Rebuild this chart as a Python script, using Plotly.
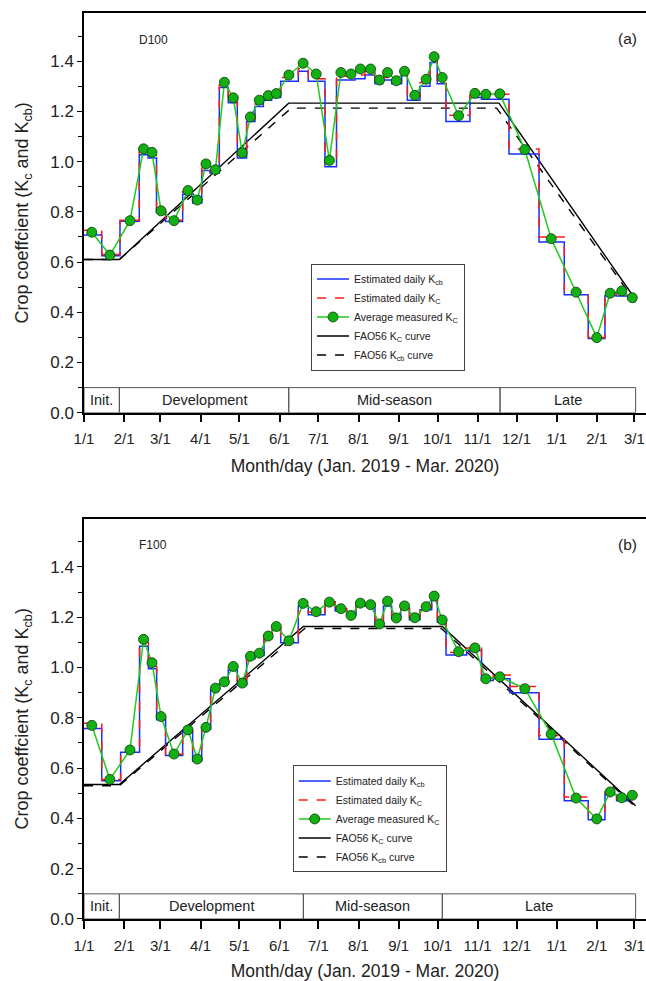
import numpy as np
import pandas as pd
import plotly.graph_objects as go

# ---------------- data (days since 2019-01-01) ----------------
meas_days = [6, 20, 35.5, 46, 52.5, 59.5, 69.5, 80.3, 87.5, 94.2, 101.5, 108.4, 115.3, 122.2,
             128.5, 135.4, 142.3, 148.5, 158.2, 169.2, 179.3, 189.5, 198.4, 206.2, 213.4, 221.3,
             228.2, 234.4, 241.2, 247.5, 255.5, 264.2, 270.4, 276.6, 289.3, 301.9, 310.3, 321.1,
             340.4, 360.8, 380, 396, 406.3, 415.3, 423.4]

meas_kc_a = [0.719, 0.628, 0.765, 1.051, 1.037, 0.804, 0.765, 0.885, 0.847, 0.991, 0.968, 1.316,
             1.254, 1.035, 1.178, 1.245, 1.263, 1.271, 1.345, 1.392, 1.349, 1.005, 1.355, 1.349,
             1.369, 1.369, 1.325, 1.355, 1.322, 1.360, 1.264, 1.328, 1.418, 1.335, 1.183, 1.272,
             1.268, 1.270, 1.048, 0.693, 0.480, 0.299, 0.476, 0.485, 0.458]

meas_kc_b = [0.770, 0.555, 0.672, 1.112, 1.019, 0.805, 0.656, 0.752, 0.636, 0.762, 0.918, 0.943,
             1.004, 0.938, 1.045, 1.057, 1.125, 1.163, 1.106, 1.255, 1.222, 1.260, 1.234, 1.207,
             1.256, 1.250, 1.173, 1.264, 1.197, 1.245, 1.198, 1.242, 1.284, 1.189, 1.063, 1.078,
             0.955, 0.963, 0.916, 0.735, 0.481, 0.398, 0.505, 0.482, 0.492]

step_edges_a = [0, 13.7, 27.8, 42.7, 49.5, 56, 63, 76.2, 83.9, 90.9, 97.3, 104.5, 111.4, 118.4,
                125.6, 132, 138.5, 144.9, 151.9, 165.5, 173.2, 186.1, 195, 209.3, 217, 224.7,
                230.6, 237.6, 245.3, 249.7, 259.5, 267.2, 272.8, 279.5, 298, 307, 328.2, 351.4,
                370.9, 389.4, 402.3, 411.3, 425.5]
kcb_steps_a = [0.708, 0.625, 0.763, 1.027, 1.015, 0.797, 0.762, 0.870, 0.835, 0.965, 0.955, 1.295,
               1.235, 1.015, 1.160, 1.220, 1.245, 1.255, 1.320, 1.360, 1.320, 0.980, 1.325, 1.330,
               1.345, 1.310, 1.325, 1.310, 1.345, 1.245, 1.300, 1.395, 1.310, 1.160, 1.255, 1.248,
               1.030, 0.680, 0.470, 0.296, 0.466, 0.465]
kc_steps_a = [0.727, 0.630, 0.767, 1.045, 1.025, 0.802, 0.767, 0.880, 0.845, 0.975, 0.965, 1.305,
              1.245, 1.025, 1.170, 1.230, 1.255, 1.265, 1.335, 1.370, 1.330, 0.995, 1.340, 1.345,
              1.360, 1.320, 1.335, 1.320, 1.355, 1.260, 1.315, 1.405, 1.325, 1.185, 1.265, 1.268,
              1.050, 0.700, 0.480, 0.300, 0.475, 0.470]

step_edges_b = [0, 13.7, 28.3, 42.9, 49.7, 56.1, 63, 76.2, 83.9, 90.9, 97.8, 104.5, 111.4, 118.4,
                125.6, 132, 139, 145.4, 151.9, 165.5, 173.2, 186.1, 194, 202.9, 210.1, 224.7,
                231.2, 237.6, 244.6, 251.3, 259.5, 268.5, 272.9, 279.6, 295.5, 307, 316, 329,
                351.4, 370.9, 389.4, 402.3, 411.3, 420, 425.5]
kcb_steps_b = [0.758, 0.550, 0.663, 1.085, 0.995, 0.792, 0.650, 0.745, 0.628, 0.755, 0.912, 0.935,
               0.990, 0.930, 1.035, 1.048, 1.115, 1.150, 1.098, 1.245, 1.210, 1.250, 1.225, 1.210,
               1.245, 1.170, 1.245, 1.195, 1.237, 1.190, 1.230, 1.270, 1.180, 1.050, 1.068, 0.948,
               0.955, 0.900, 0.715, 0.470, 0.395, 0.495, 0.470, 0.485]
kc_steps_b = [0.778, 0.555, 0.668, 1.100, 1.005, 0.800, 0.655, 0.752, 0.635, 0.762, 0.920, 0.945,
              1.000, 0.940, 1.045, 1.058, 1.125, 1.165, 1.105, 1.262, 1.220, 1.262, 1.235, 1.220,
              1.255, 1.180, 1.258, 1.205, 1.247, 1.200, 1.242, 1.282, 1.192, 1.060, 1.078, 0.958,
              0.970, 0.925, 0.730, 0.485, 0.400, 0.505, 0.478, 0.492]

fao_kc_days_a = [0, 27.3, 158.1, 320.5, 426]
fao_kc_a = [0.61, 0.61, 1.233, 1.233, 0.45]
fao_kcb_days_a = [0, 27.3, 160, 318.7, 426]
fao_kcb_a = [0.61, 0.61, 1.213, 1.213, 0.44]

fao_kc_days_b = [0, 27.3, 169.4, 276.7, 426]
fao_kc_b = [0.535, 0.535, 1.163, 1.163, 0.45]
fao_kcb_days_b = [0, 27.3, 170.5, 276.0, 426]
fao_kcb_b = [0.530, 0.530, 1.155, 1.155, 0.445]

stage_names = ["Init.", "Development", "Mid-season", "Late"]
stage_bounds_a = [0, 27.3, 158.1, 321.3, 426]
stage_bounds_b = [0, 27.3, 169.4, 276.7, 426]

panel_ids = ["D100", "F100"]
panel_tags = ["(a)", "(b)"]

x_title = "Month/day (Jan. 2019 - Mar. 2020)"
y_title = "Crop coeffcient (K<sub>c</sub> and K<sub>cb</sub>)"

BASE = pd.Timestamp("2019-01-01")


def to_dates(days):
    return BASE + pd.to_timedelta(np.asarray(days, dtype=float), unit="D")


FONT = "Liberation Sans, Arial, sans-serif"
TXT = "#222222"

fig = go.Figure()

panels = [
    dict(edges=step_edges_a, kcb=kcb_steps_a, kc=kc_steps_a, meas=meas_kc_a,
         fkd=fao_kc_days_a, fk=fao_kc_a, fbd=fao_kcb_days_a, fb=fao_kcb_a,
         stages=stage_bounds_a, xa="x", ya="y", legend="legend"),
    dict(edges=step_edges_b, kcb=kcb_steps_b, kc=kc_steps_b, meas=meas_kc_b,
         fkd=fao_kc_days_b, fk=fao_kc_b, fbd=fao_kcb_days_b, fb=fao_kcb_b,
         stages=stage_bounds_b, xa="x2", ya="y2", legend="legend2"),
]

for p in panels:
    common = dict(xaxis=p["xa"], yaxis=p["ya"], legend=p["legend"])
    fig.add_trace(go.Scatter(x=to_dates(p["fkd"]), y=p["fk"], mode="lines",
                             line=dict(color="black", width=1.4),
                             name="FAO56 K<sub>C</sub> curve", legendrank=4, **common))
    fig.add_trace(go.Scatter(x=to_dates(p["fbd"]), y=p["fb"], mode="lines",
                             line=dict(color="black", width=1.4, dash="dash"),
                             name="FAO56 K<sub>cb</sub> curve", legendrank=5, **common))
    kcb_y = list(p["kcb"]) + [p["kcb"][-1]]
    kc_y = list(p["kc"]) + [p["kc"][-1]]
    fig.add_trace(go.Scatter(x=to_dates(p["edges"]), y=kcb_y, mode="lines", line_shape="hv",
                             line=dict(color="#1530ff", width=1.5),
                             name="Estimated daily K<sub>cb</sub>", legendrank=1, **common))
    fig.add_trace(go.Scatter(x=to_dates(p["edges"]), y=kc_y, mode="lines", line_shape="hv",
                             line=dict(color="#ff1a1a", width=1.5, dash="dash"),
                             name="Estimated daily K<sub>C</sub>", legendrank=2, **common))
    fig.add_trace(go.Scatter(x=to_dates(meas_days), y=p["meas"], mode="lines+markers",
                             line=dict(color="#1ecb1e", width=1.5),
                             marker=dict(color="#12b012", size=10,
                                         line=dict(color="#0a3a0a", width=0.8)),
                             name="Average measured K<sub>C</sub>", legendrank=3, **common))

shapes = []
annotations = []
for i, p in enumerate(panels):
    b = p["stages"]
    for k in range(4):
        shapes.append(dict(type="rect", xref=p["xa"], yref=p["ya"],
                           x0=to_dates([b[k]])[0], x1=to_dates([b[k + 1]])[0], y0=0, y1=0.1,
                           line=dict(color="#555555", width=1), layer="above"))
        annotations.append(dict(xref=p["xa"], yref=p["ya"],
                                x=to_dates([(b[k] + b[k + 1]) / 2])[0], y=0.05,
                                text=stage_names[k], showarrow=False,
                                xanchor="center", yanchor="middle",
                                font=dict(size=14.5, color=TXT, family=FONT)))
    dx = p["xa"] + " domain"
    dy = p["ya"] + " domain"
    annotations.append(dict(xref=dx, yref=dy, x=0.123, y=0.933, text=panel_ids[i],
                            xanchor="center", yanchor="middle",
                            showarrow=False, font=dict(size=12, color=TXT, family=FONT)))
    annotations.append(dict(xref=dx, yref=dy, x=0.9875, y=0.935, text=panel_tags[i],
                            xanchor="right", yanchor="middle",
                            showarrow=False, font=dict(size=15.5, color=TXT, family=FONT)))

xaxis_common = dict(type="date", range=[to_dates([0])[0], to_dates([434])[0]],
                    tick0="2019-01-01", dtick="M1", tickformat="%-m/%-d",
                    ticks="outside", ticklen=8, tickwidth=1.5, tickcolor="black",
                    ticklabelstandoff=4,
                    showline=True, linecolor="black", linewidth=1.5, mirror=True,
                    showgrid=False, zeroline=False,
                    tickfont=dict(size=15, color=TXT, family=FONT),
                    title=dict(text=x_title, font=dict(size=17.5, color=TXT, family=FONT), standoff=13))
yaxis_common = dict(range=[0, 1.592], tickvals=[0, 0.2, 0.4, 0.6, 0.8, 1.0, 1.2, 1.4],
                    tickformat=".1f", ticks="outside", ticklen=5, tickwidth=1.2, tickcolor="black",
                    minor=dict(dtick=0.1, ticks="outside", ticklen=4, tickcolor="black"),
                    showline=True, linecolor="black", linewidth=1.5,
                    showgrid=False, zeroline=False,
                    tickfont=dict(size=17, color=TXT, family=FONT),
                    title=dict(text=y_title, font=dict(size=18, color=TXT, family=FONT), standoff=17))

legend_common = dict(xanchor="left", yanchor="top", bgcolor="white",
                     bordercolor="#444444", borderwidth=1,
                     font=dict(size=10.5, color=TXT, family=FONT),
                     tracegroupgap=0, itemwidth=32)

fig.update_layout(
    width=646, height=981,
    margin=dict(l=84, r=0, t=13, b=62),
    paper_bgcolor="white", plot_bgcolor="white",
    xaxis=dict(domain=[0, 1], anchor="y", **xaxis_common),
    yaxis=dict(domain=[0.5588, 1.0], anchor="x", **yaxis_common),
    xaxis2=dict(domain=[0, 1], anchor="y2", **xaxis_common),
    yaxis2=dict(domain=[0.0, 0.4419], anchor="x2", **yaxis_common),
    legend=dict(x=0.404, y=0.7235, **legend_common),
    legend2=dict(x=0.3714, y=0.1695, **legend_common),
    shapes=shapes,
    annotations=annotations,
    showlegend=True,
)

fig.write_html("out.html")
